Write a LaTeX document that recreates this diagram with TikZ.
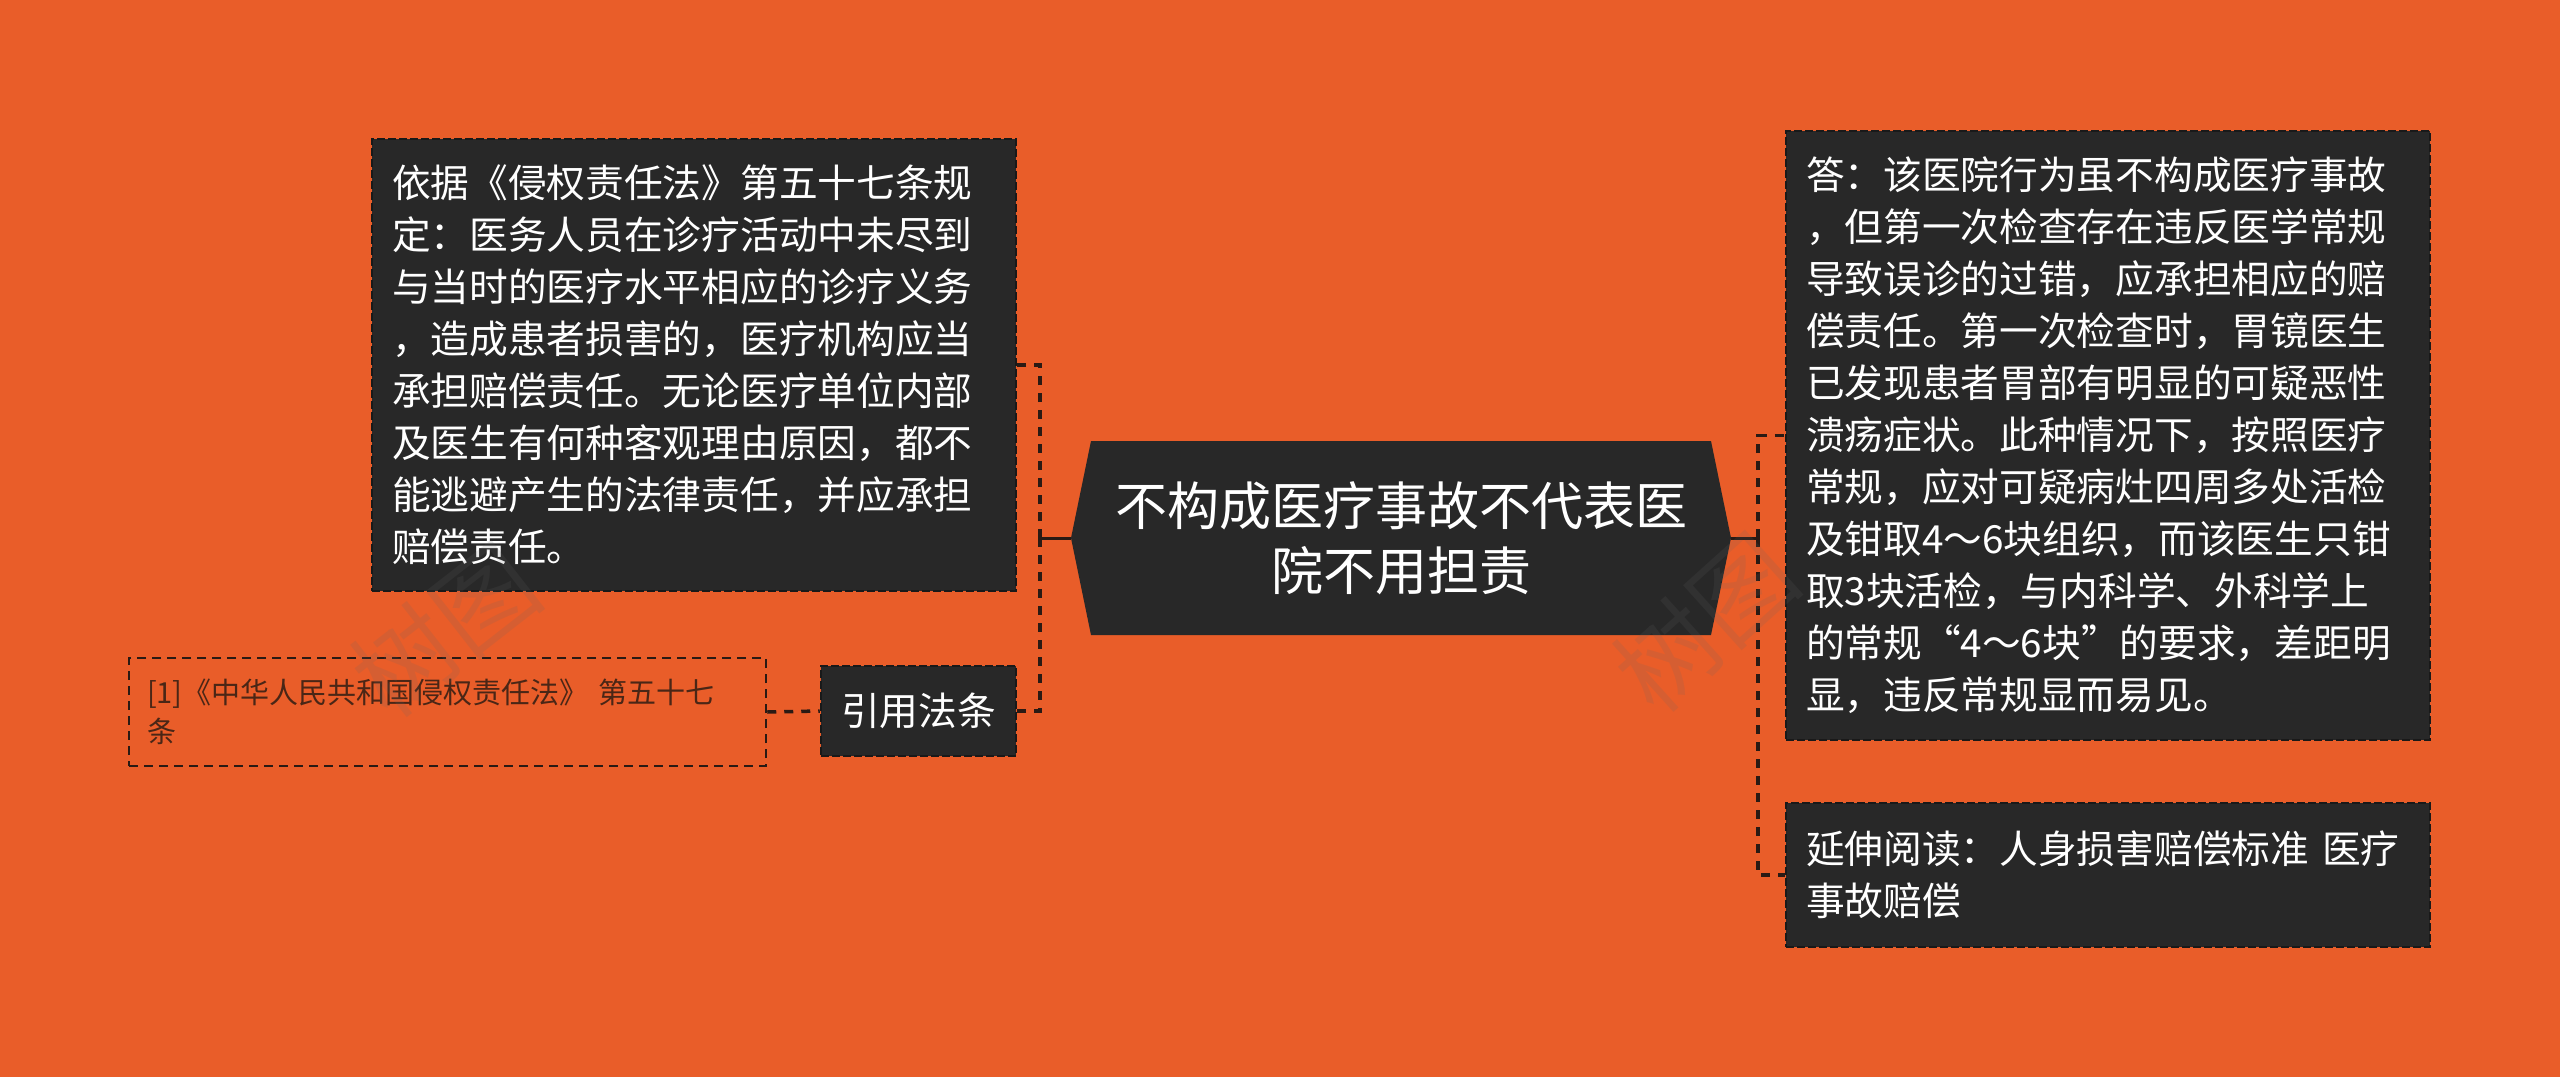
\documentclass[tikz,border=0pt]{standalone}
\usepackage{fontspec}
\setmainfont{Noto Sans CJK SC}
\usepackage{tikz}
\usepackage{xcolor}
\usetikzlibrary{positioning}
\definecolor{Map_Orange}{HTML}{E95D29}
\definecolor{Map_Dark}{HTML}{282828}
\definecolor{Map_Line}{HTML}{2A1A14}
\definecolor{Map_Brown}{HTML}{4A2616}

\begin{document}
\begin{tikzpicture}[
    x=1pt, y=-1pt,       % one unit = one pixel, y runs down
    box/.style={fill=Map_Dark, draw=black!90, line width=2.5pt,
        dash pattern=on 8pt off 3pt, text=white, inner ysep=0pt,
        font=\fontsize{38.7}{52}\selectfont},
    textbox/.style={box, align=left, text width=604pt, inner xsep=20pt},
    refbox/.style={draw=Map_Line, line width=2.5pt, dash pattern=on 9pt off 6pt,
        text=Map_Brown, align=left, text width=601pt, inner xsep=18pt,
        inner ysep=0pt, font=\fontsize{29}{39}\selectfont},
    link/.style={draw=Map_Line, line width=3.5pt, dash pattern=on 9pt off 8pt},
    stub/.style={draw=Map_Line, line width=3pt},
    watermark/.style={text=black!60, opacity=0.15, font=\fontsize{100}{100}\selectfont}
]

    % --- Parameters ---
    \def\rootX{1401}  % centre of the main topic
    \def\rootY{538}
    \def\rootW{330}   % half width, tips included
    \def\rootH{97}    % half height
    \def\tip{20}      % depth of the pointed ends

    % --- 1. Background ---
    \useasboundingbox (0,0) rectangle (2560,1077);
    \fill[Map_Orange] (0,0) rectangle (2560,1077);

    % --- 2. Main topic (pointed box) ---
    \fill[Map_Dark] (\rootX-\rootW,\rootY) -- (\rootX-\rootW+\tip,\rootY-\rootH)
        -- (\rootX+\rootW-\tip,\rootY-\rootH) -- (\rootX+\rootW,\rootY)
        -- (\rootX+\rootW-\tip,\rootY+\rootH) -- (\rootX-\rootW+\tip,\rootY+\rootH) -- cycle;
    \node[text=white, align=center, inner sep=0pt, minimum width=660pt, minimum height=194pt,
        font=\fontsize{52}{65}\selectfont] (root) at (\rootX,\rootY)
        {不构成医疗事故不代表医\\院不用担责};

    % --- 3. Left branch ---
    \node[textbox, minimum height=452pt] (basis) at (694,365)
        {依据《侵权责任法》第五十七条规\\
         定：医务人员在诊疗活动中未尽到\\
         与当时的医疗水平相应的诊疗义务\\
         ，造成患者损害的，医疗机构应当\\
         承担赔偿责任。无论医疗单位内部\\
         及医生有何种客观理由原因，都不\\
         能逃避产生的法律责任，并应承担\\
         赔偿责任。};
    \node[box, align=center, inner xsep=0pt, minimum width=195pt, minimum height=90pt]
        (cite) at (918.5,711) {引用法条};
    \node[refbox, minimum height=108pt] (law) at (447.5,712)
        {[1]《中华人民共和国侵权责任法》 第五十七\\条};

    % --- 4. Right branch ---
    \node[textbox, minimum height=609pt] (answer) at (2108,435.5)
        {答：该医院行为虽不构成医疗事故\\
         ，但第一次检查存在违反医学常规\\
         导致误诊的过错，应承担相应的赔\\
         偿责任。第一次检查时，胃镜医生\\
         已发现患者胃部有明显的可疑恶性\\
         溃疡症状。此种情况下，按照医疗\\
         常规，应对可疑病灶四周多处活检\\
         及钳取4～6块组织，而该医生只钳\\
         取3块活检，与内科学、外科学上\\
         的常规“4～6块”的要求，差距明\\
         显，违反常规显而易见。};
    \node[textbox, minimum height=144pt] (reading) at (2108,875)
        {延伸阅读：人身损害赔偿标准 医疗\\事故赔偿};

    % --- 5. Connectors ---
    \coordinate (lj) at (1040,\rootY);
    \coordinate (rj) at (1758,\rootY);
    \draw[stub] (root.west) -- (lj);
    \draw[stub] (root.east) -- (rj);
    \draw[link] (lj) |- (basis.east);
    \draw[link] (lj) |- (cite.east);
    \draw[link] (law.east) -- (cite.west);
    \draw[link] (rj) |- (answer.west);
    \draw[link] (rj) |- (reading.west);

    % --- 6. Watermarks ---
    \node[watermark, rotate=38] (wmleft) at (445,630) {树图};
    \node[watermark, rotate=42] (wmright) at (1705,622) {树图};

\end{tikzpicture}
\end{document}
